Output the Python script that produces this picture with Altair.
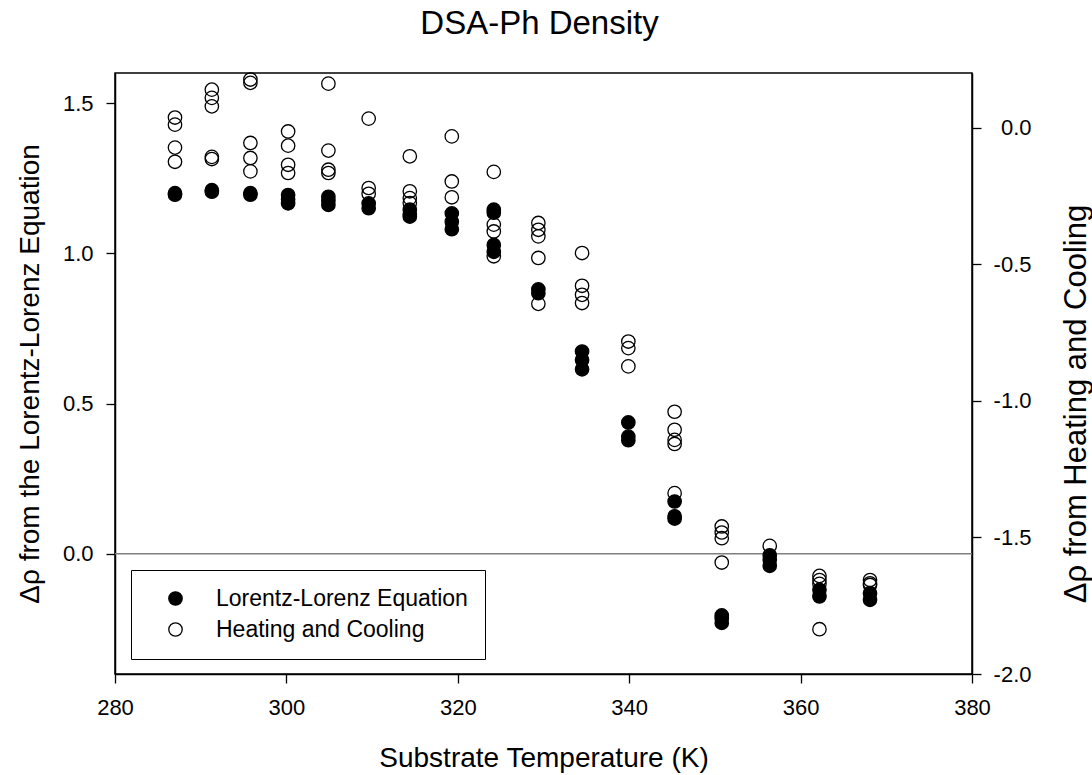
import altair as alt
import pandas as pd

# ---- data ----
series_names = ["Lorentz-Lorenz Equation", "Heating and Cooling"]

lorentz_temp = [
    287.0, 287.0,
    291.3, 291.3,
    295.8, 295.8,
    300.2, 300.2, 300.2,
    304.9, 304.9, 304.9,
    309.6, 309.6,
    314.4, 314.4, 314.4,
    319.3, 319.3, 319.3,
    324.2, 324.2, 324.2, 324.2,
    329.4, 329.4,
    334.5, 334.5, 334.5,
    339.9, 339.9, 339.9,
    345.3, 345.3, 345.3,
    350.8, 350.8, 350.8,
    356.4, 356.4, 356.4,
    362.2, 362.2,
    368.1, 368.1,
]
lorentz_delta = [
    1.200, 1.195,
    1.210, 1.205,
    1.200, 1.195,
    1.194, 1.180, 1.166,
    1.188, 1.175, 1.161,
    1.166, 1.150,
    1.145, 1.130, 1.122,
    1.133, 1.105, 1.080,
    1.145, 1.135, 1.028, 1.005,
    0.880, 0.867,
    0.673, 0.645, 0.614,
    0.437, 0.390, 0.378,
    0.174, 0.125, 0.117,
    -0.205, -0.215, -0.230,
    -0.005, -0.020, -0.040,
    -0.120, -0.142,
    -0.131, -0.153,
]

heating_temp = [
    287.0, 287.0, 287.0, 287.0,
    291.3, 291.3, 291.3, 291.3, 291.3,
    295.8, 295.8, 295.8, 295.8, 295.8,
    300.2, 300.2, 300.2, 300.2,
    304.9, 304.9, 304.9, 304.9,
    309.6, 309.6, 309.6,
    314.4, 314.4, 314.4, 314.4,
    319.3, 319.3, 319.3,
    324.2, 324.2, 324.2, 324.2,
    329.4, 329.4, 329.4, 329.4, 329.4,
    334.5, 334.5, 334.5, 334.5,
    339.9, 339.9, 339.9,
    345.3, 345.3, 345.3, 345.3, 345.3,
    350.8, 350.8, 350.8, 350.8,
    356.4,
    362.2, 362.2, 362.2, 362.2,
    368.1, 368.1, 368.1,
]
heating_delta = [
    0.037, 0.011, -0.073, -0.125,
    0.139, 0.109, 0.078, -0.107, -0.115,
    0.176, 0.164, -0.056, -0.111, -0.160,
    -0.014, -0.066, -0.136, -0.166,
    0.161, -0.084, -0.154, -0.166,
    0.033, -0.221, -0.242,
    -0.105, -0.233, -0.258, -0.276,
    -0.032, -0.197, -0.255,
    -0.162, -0.355, -0.380, -0.471,
    -0.349, -0.374, -0.398, -0.477, -0.645,
    -0.459, -0.579, -0.612, -0.642,
    -0.783, -0.807, -0.874,
    -1.040, -1.106, -1.143, -1.158, -1.338,
    -1.460, -1.482, -1.503, -1.592,
    -1.531,
    -1.641, -1.656, -1.670, -1.836,
    -1.656, -1.668, -1.674,
]

x_ticks = [280, 300, 320, 340, 360, 380]
left_ticks = [0.0, 0.5, 1.0, 1.5]
right_ticks = [-2.0, -1.5, -1.0, -0.5, 0.0]
reference_line = [0.0]

df_l = pd.DataFrame({"T": lorentz_temp, "v": lorentz_delta, "series": series_names[0]})
df_h = pd.DataFrame({"T": heating_temp, "v": heating_delta, "series": series_names[1]})
df_rule = pd.DataFrame({"v": reference_line})

FONT = "Liberation Sans"
W, H = 857, 601
HYPHEN_LABEL = "datum.value < 0 ? '-' + format(-datum.value, '.1f') : format(datum.value, '.1f')"

x_enc = alt.X(
    "T:Q",
    scale=alt.Scale(domain=[280, 380], nice=False, zero=False),
    axis=alt.Axis(
        values=x_ticks, format="d", title="Substrate Temperature (K)",
        titleX=W / 2, titleY=84, titleBaseline="middle", titleAlign="center",
        labelPadding=14, labelFlush=False,
    ),
)

y_left = alt.Y(
    "v:Q",
    scale=alt.Scale(domain=[-0.4, 1.6], nice=False, zero=False),
    axis=alt.Axis(
        orient="left", values=left_ticks, labelExpr=HYPHEN_LABEL,
        title="Δρ from the Lorentz-Lorenz Equation",
        titleAngle=270, titleX=-85, titleY=H / 2,
        titleBaseline="middle", titleAlign="center",
        labelPadding=13, labelFlush=False,
    ),
)

y_right = alt.Y(
    "v:Q",
    scale=alt.Scale(domain=[-2.0, 0.2], nice=False, zero=False),
    axis=alt.Axis(
        orient="right", values=right_ticks, labelExpr=HYPHEN_LABEL,
        title="Δρ from Heating and Cooling",
        titleAngle=270, titleX=104, titleY=H / 2 + 30,
        titleBaseline="middle", titleAlign="center", titleFontSize=31,
        labelAlign="right", labelPadding=50, labelFlush=False,
    ),
)

fill_enc = alt.Fill(
    "series:N",
    scale=alt.Scale(domain=series_names, range=["black", "transparent"]),
    legend=alt.Legend(
        title=None, orient="none", legendX=16, legendY=497,
        padding=17, symbolOffset=16, labelOffset=29, rowPadding=7,
        strokeColor="black", fillColor="white",
        symbolType="circle", symbolSize=180,
        symbolStrokeColor="black", symbolStrokeWidth=1.3,
        labelFontSize=23, labelFont=FONT, labelColor="black", labelLimit=0,
    ),
)

rule = alt.Chart(df_rule).mark_rule(color="#7f7f7f", strokeWidth=1.5).encode(y=y_left)

filled = alt.Chart(df_l).mark_point(
    shape="circle", filled=True, size=180, stroke="black", strokeWidth=1.3, opacity=1
).encode(x=x_enc, y=y_left, fill=fill_enc)

opened = alt.Chart(df_h).mark_point(
    shape="circle", filled=True, size=180, stroke="black", strokeWidth=1.3, opacity=1
).encode(x=x_enc, y=y_right, fill=fill_enc)

left = alt.layer(rule, filled)

chart = (
    alt.layer(left, opened)
    .resolve_scale(y="independent")
    .properties(
        width=W, height=H,
        title=alt.TitleParams(
            "DSA-Ph Density", font=FONT, fontSize=33, fontWeight="normal",
            color="black", anchor="middle", baseline="alphabetic",
            offset=36, dy=33, dx=-4,
        ),
        autosize=alt.AutoSizeParams(type="none"),
        padding={"left": 115, "top": 73, "right": 120, "bottom": 101},
    )
    .configure_view(stroke="black", strokeWidth=1.5)
    .configure_axis(
        grid=False, domainColor="black", domainWidth=1.5,
        tickColor="black", tickWidth=1.3, tickSize=9,
        labelFont=FONT, labelFontSize=22, labelColor="black",
        titleFont=FONT, titleFontSize=28, titleFontWeight="normal", titleColor="black",
    )
)

chart.save("out.html", embed_options={"renderer": "svg", "actions": False})
